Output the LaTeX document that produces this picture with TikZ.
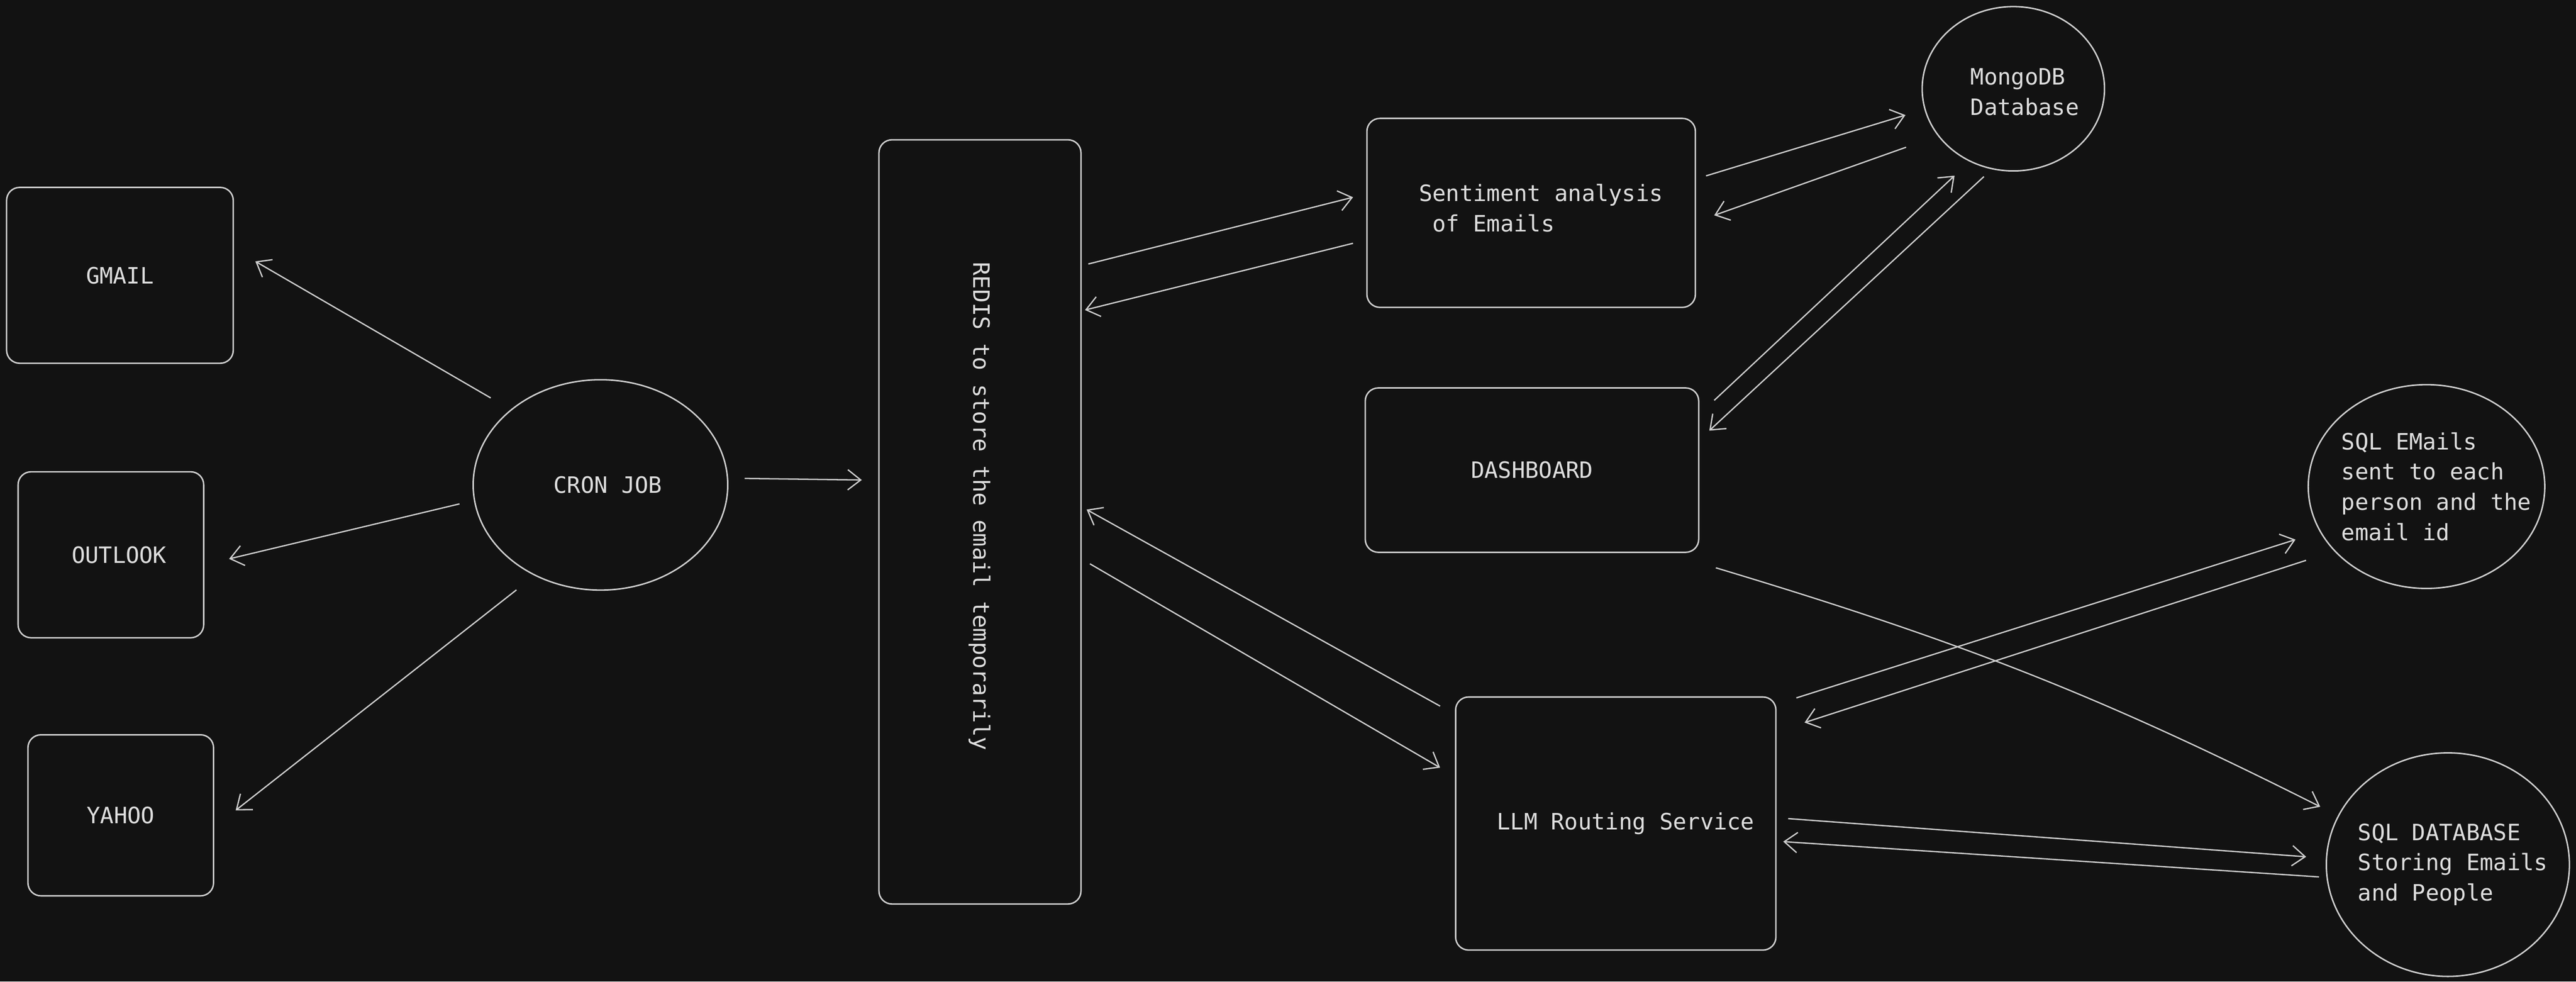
\documentclass[tikz,border=0pt]{standalone}
\usepackage{fontspec}
\setmonofont{DejaVu Sans Mono}
\usetikzlibrary{shapes.geometric,arrows.meta}
\definecolor{bgdark}{HTML}{121212}
\definecolor{strokegray}{HTML}{CFCFCF}
\definecolor{textgray}{HTML}{DEDEDE}
\tikzset{
	txt/.style={text=textgray,font=\ttfamily\fontsize{7.8pt}{10.5pt}\selectfont},
	box/.style={draw=strokegray,line width=0.5pt,rounded corners=4.5pt,txt},
	blob/.style={draw=strokegray,line width=0.5pt,ellipse,inner sep=0pt},
	arr/.style={draw=strokegray,line width=0.45pt,-{Straight Barb[length=4.5pt,width=7pt]}},
}
\begin{document}
\begin{tikzpicture}[x=0.02cm,y=-0.02cm]
	\fill[bgdark] (0,0) rectangle (1568,597.1);
	% Mail accounts
	\node[box,minimum width=2.76cm,minimum height=2.14cm] (gmail) at (73,167.5) {GMAIL};
	\node[box,minimum width=2.26cm,minimum height=2.02cm,label={[txt,xshift=0.1cm]center:OUTLOOK}] (outlook) at (67.5,337.5) {};
	\node[box,minimum width=2.26cm,minimum height=1.96cm] (yahoo) at (73.5,496) {YAHOO};
	% Cron job and Redis
	\node[blob,minimum width=3.1cm,minimum height=2.56cm,label={[txt,xshift=0.09cm]center:CRON JOB}] (cron) at (365.5,295) {};
	\node[box,minimum width=2.46cm,minimum height=9.3cm,label={[txt,yshift=0.19cm,rotate=-90]center:REDIS to store the email temporarily}] (redis) at (596.5,317.5) {};
	% Services and stores
	\node[box,minimum width=4cm,minimum height=2.3cm,label={[txt,align=left,xshift=0.12cm,yshift=0.06cm]center:Sentiment analysis\\\hphantom{x}of Emails}] (senti) at (932,129.5) {};
	\node[box,minimum width=4.06cm,minimum height=2cm] (dash) at (932.5,286) {DASHBOARD};
	\node[blob,minimum width=2.22cm,minimum height=2cm,label={[txt,align=left,xshift=0.14cm,yshift=-0.04cm]center:MongoDB\\Database}] (mongo) at (1225.5,54) {};
	\node[box,minimum width=3.9cm,minimum height=3.08cm,label={[txt,xshift=0.12cm]center:LLM Routing Service}] (llm) at (983.5,501) {};
	\node[blob,minimum width=2.88cm,minimum height=2.48cm,label={[txt,align=left,xshift=0.12cm]center:SQL EMails\\sent to each\\person and the\\email id}] (sqlmail) at (1477,296) {};
	\node[blob,minimum width=2.96cm,minimum height=2.72cm,label={[txt,align=left,xshift=0.06cm]center:SQL DATABASE\\Storing Emails\\and People}] (sqldb) at (1490,526) {};
	% Cron job arrows
	\draw[arr,shorten <=0.28cm] (cron.140) -- ([shift={(13,-8.5)}]gmail.east);
	\draw[arr,shorten <=0.18cm] (cron.187) -- ([shift={(15,2.5)}]outlook.east);
	\draw[arr,shorten <=0.28cm] (cron.234) -- ([shift={(13,-3)}]yahoo.east);
	\draw[arr,shorten <=0.2cm] (cron.3) -- ([shift={(-10,-25.5)}]redis.west);
	% Redis arrows
	\draw[arr] ([shift={(4,76)}]redis.north east) -- ([shift={(-8,-9.5)}]senti.west);
	\draw[arr] ([shift={(-8,18.5)}]senti.west) -- ([shift={(2,104)}]redis.north east);
	\draw[arr] ([shift={(-9,6)}]llm.north west) -- ([shift={(3,-7.5)}]redis.east);
	\draw[arr] ([shift={(5,25.5)}]redis.east) -- ([shift={(-9,-34)}]llm.west);
	% MongoDB arrows
	\draw[arr,shorten >=0.24cm] ([shift={(6,-22.5)}]senti.east) -- (mongo.193);
	\draw[arr,shorten <=0.41cm] (mongo.212) -- ([shift={(11,1.5)}]senti.east);
	\draw[arr,shorten >=0.25cm] ([shift={(9,8)}]dash.north east) -- (mongo.239);
	\draw[arr,shorten <=0.13cm] (mongo.255) -- ([shift={(6,-24)}]dash.east);
	% SQL arrows
	\draw[arr,shorten >=0.24cm] ([shift={(10,9)}]dash.south east) to[bend left=5] (sqldb.156);
	\draw[arr,shorten >=0.31cm] ([shift={(12,1)}]llm.north east) -- (sqlmail.203);
	\draw[arr,shorten <=0.36cm] (sqlmail.215) -- ([shift={(17,16)}]llm.north east);
	\draw[arr,shorten >=0.24cm] ([shift={(7,-3)}]llm.east) -- (sqldb.177);
	\draw[arr,shorten <=0.09cm] (sqldb.186) -- ([shift={(4,11)}]llm.east);
\end{tikzpicture}
\end{document}
